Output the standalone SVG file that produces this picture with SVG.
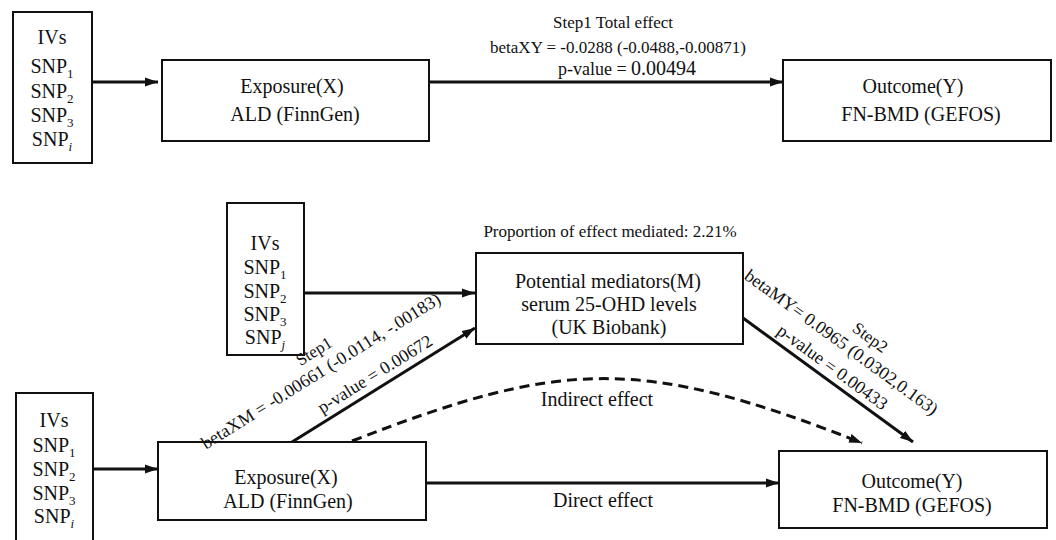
<svg xmlns="http://www.w3.org/2000/svg" width="1056" height="540" viewBox="0 0 1056 540">
<style>
  text { font-family: "Liberation Serif", "Times New Roman", serif; fill: #111; }
  .node { fill: #fff; stroke: #111; stroke-width: 2; }
  .t20 { font-size: 20px; text-anchor: middle; }
  .t17 { font-size: 17px; text-anchor: middle; }
  .t18 { font-size: 18px; text-anchor: middle; }
  .sub { font-size: 13px; }
  .edge { fill: none; stroke: #111; stroke-width: 3; }
  .dash { fill: none; stroke: #111; stroke-width: 3; stroke-dasharray: 10 6; }
</style>
<defs>
  <marker id="ah" markerUnits="userSpaceOnUse" markerWidth="14" markerHeight="10" refX="13" refY="5" orient="auto">
    <path d="M0,0.5 L13,5 L0,9.5 z" fill="#111"/>
  </marker>
</defs>
<rect width="1056" height="540" fill="#fff"/>

<g id="connectors">
  <line class="edge" x1="92" y1="82" x2="158" y2="82" marker-end="url(#ah)"/>
  <line class="edge" x1="429" y1="82" x2="783" y2="82" marker-end="url(#ah)"/>
  <line class="edge" x1="304" y1="293" x2="475" y2="293" marker-end="url(#ah)"/>
  <line class="edge" x1="93" y1="469" x2="158" y2="469" marker-end="url(#ah)"/>
  <line class="edge" x1="292" y1="442" x2="475" y2="328" marker-end="url(#ah)"/>
  <line class="edge" x1="743" y1="318" x2="913" y2="442" marker-end="url(#ah)"/>
  <line class="edge" x1="426" y1="483" x2="779" y2="483" marker-end="url(#ah)"/>
  <path class="dash" d="M352,441 C560,360 640,355 862,443" marker-end="url(#ah)"/>
</g>

<g id="ivs-top">
  <rect class="node" x="13" y="12" width="79" height="151"/>
  <text class="t20" x="52" y="44">IVs</text>
  <text class="t20" x="52" y="73">SNP<tspan class="sub" dy="5">1</tspan></text>
  <text class="t20" x="52" y="98">SNP<tspan class="sub" dy="5">2</tspan></text>
  <text class="t20" x="52" y="122">SNP<tspan class="sub" dy="5">3</tspan></text>
  <text class="t20" x="52" y="146">SNP<tspan class="sub" dy="5" font-style="italic">i</tspan></text>
</g>

<g id="exposure-top">
  <rect class="node" x="162" y="60" width="267" height="81"/>
  <text class="t20" x="292" y="93">Exposure(X)</text>
  <text class="t20" x="295" y="121">ALD (FinnGen)</text>
</g>

<g id="outcome-top">
  <rect class="node" x="783" y="60" width="268" height="81"/>
  <text class="t20" x="913" y="93">Outcome(Y)</text>
  <text class="t20" x="921" y="121">FN-BMD (GEFOS)</text>
</g>

<g id="ivs-mediator">
  <rect class="node" x="227" y="203" width="77" height="152"/>
  <text class="t20" x="265" y="250">IVs</text>
  <text class="t20" x="265" y="274">SNP<tspan class="sub" dy="5">1</tspan></text>
  <text class="t20" x="265" y="298">SNP<tspan class="sub" dy="5">2</tspan></text>
  <text class="t20" x="265" y="321">SNP<tspan class="sub" dy="5">3</tspan></text>
  <text class="t20" x="265" y="344">SNP<tspan class="sub" dy="5" font-style="italic">j</tspan></text>
</g>

<g id="mediator">
  <rect class="node" x="476" y="253" width="267" height="91"/>
  <text class="t20" x="608" y="288">Potential mediators(M)</text>
  <text class="t20" x="609" y="311">serum 25-OHD levels</text>
  <text class="t20" x="609" y="334">(UK Biobank)</text>
</g>

<g id="ivs-bottom">
  <rect class="node" x="16" y="393" width="77" height="160"/>
  <text class="t20" x="54" y="427">IVs</text>
  <text class="t20" x="54" y="452">SNP<tspan class="sub" dy="5">1</tspan></text>
  <text class="t20" x="54" y="476">SNP<tspan class="sub" dy="5">2</tspan></text>
  <text class="t20" x="54" y="500">SNP<tspan class="sub" dy="5">3</tspan></text>
  <text class="t20" x="54" y="523">SNP<tspan class="sub" dy="5" font-style="italic">i</tspan></text>
</g>

<g id="exposure-bottom">
  <rect class="node" x="158" y="442" width="268" height="78"/>
  <text class="t20" x="286" y="484">Exposure(X)</text>
  <text class="t20" x="288" y="508">ALD (FinnGen)</text>
</g>

<g id="outcome-bottom">
  <rect class="node" x="779" y="451" width="268" height="77"/>
  <text class="t20" x="912" y="488">Outcome(Y)</text>
  <text class="t20" x="912" y="512">FN-BMD (GEFOS)</text>
</g>

<g id="labels">
  <text class="t17" x="613" y="28">Step1 Total effect</text>
  <text class="t17" x="618" y="53">betaXY = -0.0288 (-0.0488,-0.00871)</text>
  <text class="t18" x="627" y="75">p-value = <tspan font-size="20">0.00494</tspan></text>
  <text class="t17" x="610" y="237">Proportion of effect mediated: 2.21%</text>
  <text class="t17" transform="translate(317,356) rotate(-32)">Step1</text>
  <text class="t18" transform="translate(324,376) rotate(-32)">betaXM = -0.00661 (-0.0114, -.00183)</text>
  <text class="t18" transform="translate(378,379) rotate(-32)">p-value = 0.00672</text>
  <text class="t17" transform="translate(867,342) rotate(36)">Step2</text>
  <text class="t18" transform="translate(838,347) rotate(36)">betaMY= 0.0965 (0.0302,0.163)</text>
  <text class="t18" transform="translate(829,372) rotate(36)">p-value = 0.00433</text>
  <text class="t20" x="597" y="406">Indirect effect</text>
  <text class="t20" x="603" y="507">Direct effect</text>
</g>
</svg>
